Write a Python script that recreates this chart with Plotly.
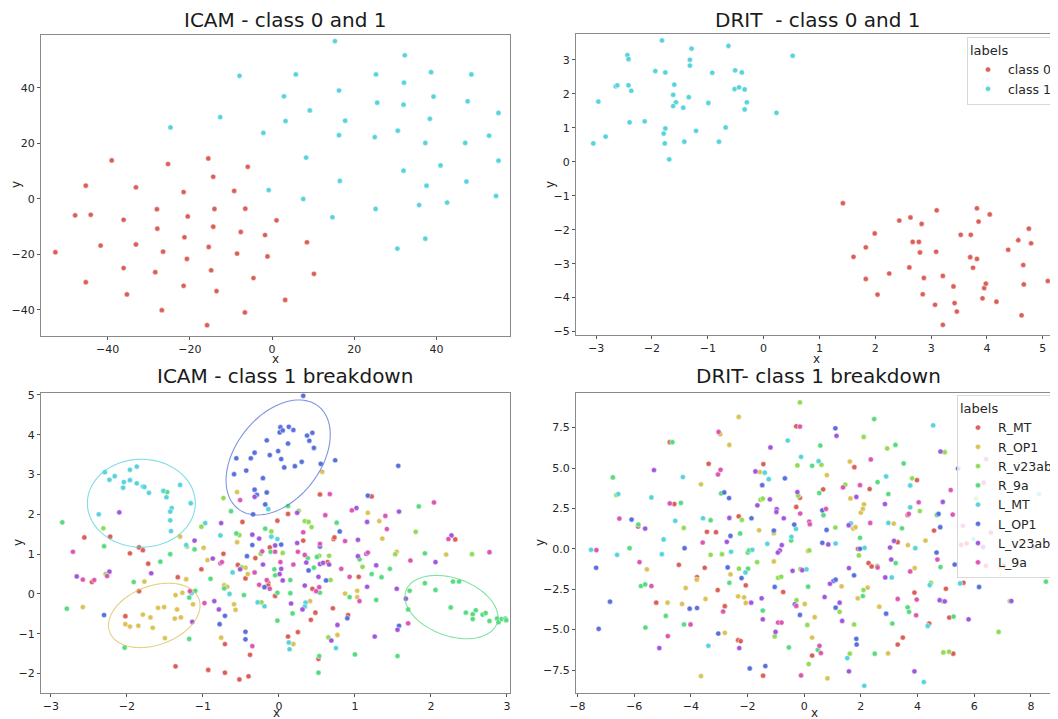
import numpy as np
import plotly.graph_objects as go

# ---------------- colours (seaborn hls palette) ----------------
PAL8 = ["#db5f57", "#dbc257", "#91db57", "#57db80", "#57d3db", "#5770db", "#a157db", "#db57b2"]
PAL2 = ["#db5f57", "#57d3db"]

# ---------------- ICAM - class 0 and 1 ----------------
icam01_c0_x = [-39.0, -25.3, -15.5, -5.9, -14.3, -45.3, -33.1, -9.2, -21.5, -47.9, -44.1, -28.0, -20.5, -14.0, -6.5,
               -36.1, 1.1, -27.9, -14.3, -7.6, -1.7, -21.3, 8.5, -41.7, -33.1, -15.4, -52.7, -26.5, -8.5, -1.1,
               -20.7, -36.1, -28.4, -14.8, 10.2, -4.5, -21.5, -35.3, -13.5, 3.2, -26.8, -6.6, -15.8, -45.3]
icam01_c0_y = [13.8, 12.5, 14.5, 11.5, 7.9, 4.7, 4.1, 2.8, 2.4, -6.0, -5.8, -3.8, -6.4, -3.7, -3.6,
               -7.6, -7.8, -10.8, -10.1, -12.0, -13.1, -13.9, -15.7, -16.9, -16.5, -17.4, -19.3, -19.1, -19.8, -20.8,
               -21.7, -25.0, -26.5, -25.8, -27.1, -28.6, -31.4, -34.5, -33.3, -36.5, -40.2, -41.0, -45.6, -30.1]
icam01_c1_x = [15.3, 32.3, -7.9, 5.8, 25.3, 38.7, 48.5, 32.1, 16.3, 2.9, 39.3, 25.6, 32.0, 47.6, 55.1, 9.2, -12.6,
               3.3, 17.8, 38.4, -24.7, -2.1, 16.3, 25.0, 30.6, 37.3, 47.0, 52.8, 8.3, 41.0, 32.0, 55.1, -0.8, 16.5,
               37.6, 47.3, 7.6, 54.5, 35.8, 42.6, 25.2, 14.7, 37.3, 30.5]
icam01_c1_y = [56.8, 51.7, 44.3, 44.8, 44.8, 45.6, 44.8, 41.8, 39.0, 36.9, 36.8, 34.6, 33.9, 35.1, 30.9, 31.8, 29.4,
               28.0, 28.1, 28.8, 25.7, 23.7, 22.9, 22.2, 24.5, 20.1, 20.1, 22.7, 14.8, 12.0, 10.1, 13.7, 3.1, 6.4,
               4.7, 6.2, -0.1, 1.0, -2.3, -1.4, -3.7, -6.7, -14.4, -18.0]

# ---------------- DRIT - class 0 and 1 ----------------
drit01_c0_x = [1.42, 1.61, 1.83, 1.83, 1.99, 2.04, 2.25, 2.43, 2.63, 2.67, 2.61, 2.78, 2.80, 2.83, 2.87, 2.85, 3.07,
               3.10, 3.09, 3.21, 3.21, 3.40, 3.42, 3.46, 3.53, 3.71, 3.70, 3.75, 3.82, 3.82, 3.85, 3.92, 3.95, 3.98,
               4.05, 4.17, 4.38, 4.56, 4.62, 4.65, 4.66, 4.75, 4.79, 5.09]
drit01_c0_y = [-1.22, -2.80, -2.52, -3.45, -2.11, -3.91, -3.29, -1.73, -1.64, -2.36, -3.11, -2.36, -2.67, -1.83,
               -3.42, -3.90, -4.21, -1.43, -2.65, -3.36, -4.80, -3.67, -4.16, -4.41, -2.15, -2.15, -2.81, -3.12,
               -1.37, -2.86, -1.76, -4.02, -3.72, -3.59, -1.55, -4.12, -2.59, -2.31, -4.52, -3.04, -3.61, -1.97,
               -2.40, -3.51]
drit01_c1_x = [-3.05, -2.96, -2.83, -2.65, -2.62, -2.44, -2.42, -2.42, -2.37, -2.40, -2.13, -1.94, -1.82, -1.76,
               -1.60, -1.62, -1.57, -1.62, -1.76, -1.79, -1.77, -1.69, -1.44, -1.34, -1.32, -1.32, -1.29, -1.42,
               -1.21, -0.99, -0.92, -0.80, -0.68, -0.63, -0.51, -0.52, -0.44, -0.39, -0.34, -0.30, -0.34, 0.23, 0.52]
drit01_c1_y = [0.54, 1.77, 0.74, 2.22, 2.25, 3.14, 3.02, 2.25, 2.09, 1.16, 1.19, 2.67, 3.57, 2.63, 2.27, 1.97, 1.75,
               1.64, 0.98, 0.83, 0.54, 0.07, 1.59, 1.90, 2.83, 3.00, 3.33, 0.59, 0.91, 1.73, 2.62, 0.59, 1.01, 3.41,
               2.69, 2.14, 2.19, 2.63, 2.13, 1.75, 1.54, 1.44, 3.12]

CLASS_LABELS = ["class 0", "class 1"]
BREAK_LABELS = ["R_MT", "R_OP1", "R_v23ab", "R_9a", "L_MT", "L_OP1", "L_v23ab", "L_9a"]

# ---------------- ICAM - class 1 breakdown ----------------
icam_bd = {
    "R_MT": (
        [-2.22, -2.02, -1.84, -1.33, -2.56, -2.46, -1.96, -1.84, -1.79, -1.72, -1.36, -1.02, -0.93, -0.73, -0.71,
         -0.71, -0.52, -0.54, -0.48, -0.44, -0.40, -0.38, -0.31, -0.14, -0.14, -0.12, -0.02, 0.12, 0.12, 0.25,
         0.32, 0.42, 0.44, 0.48, 0.52, 0.54, 0.64, 0.72, 0.73, 0.71, 0.91, 1.05, 1.22, 2.32, -0.05],
        [1.44, -0.56, 0.07, 0.42, 1.42, 0.30, 1.02, 1.17, 1.10, 0.76, -1.82, 0.62, -1.91, 1.01, -1.26,
         -1.98, -2.15, 0.73, 1.81, 0.39, -2.07, -1.53, 0.90, 0.28, 0.21, 1.17, 1.84, -1.07, 2.01, -0.96,
         1.34, -0.65, 0.13, -0.47, -1.63, 2.50, 0.80, 1.38, 1.42, -0.36, -0.53, 0.43, 2.45, 1.37, -0.05]),
    "R_OP1": (
        [-1.36, -1.27, -1.59, -1.51, -1.34, -1.79, -1.69, -2.02, -1.96, -1.85, -1.66, -1.37, -1.29, -1.50, -1.13,
         -1.30, -1.77, -2.58, -1.22, -0.55, 0.57, -0.99, -0.94, -0.76, -0.72, -0.68, -0.59, -0.57, -0.55, -0.44,
         -0.41, 0.19, 0.41, 0.77, 0.87, 1.03, 1.03, 1.17, 1.32, 1.36, 1.55, 2.20],
        [-0.03, 0.03, -0.35, -0.33, -0.39, -0.52, -0.59, -0.76, -0.82, -0.80, -0.85, -0.62, -0.59, -1.11, -0.26,
         1.44, 0.31, -0.33, 0.37, 2.56, 3.07, 1.16, 0.85, -1.10, 0.22, 0.18, -0.26, -0.40, 1.30, 0.66,
         0.50, -1.26, -0.18, -1.03, 0.01, 0.08, -0.08, 2.04, 1.83, 1.39, 1.06, 0.99]),
    "R_v23ab": (
        [-2.31, -2.28, -1.21, -1.02, -0.52, -0.49, -0.24, -0.23, -0.10, 0.05, 0.26, 0.34, 0.39, 0.43, 0.53,
         0.66, 0.65, 0.68, 1.10, 1.53, 1.80, 2.54, -0.73],
        [1.65, 0.50, 1.19, 1.69, 1.48, 0.67, 1.01, -0.21, 1.57, 1.03, 2.09, 1.83, 1.81, 1.68, 0.96,
         0.96, -1.09, 0.35, 0.68, 1.00, 1.56, 1.00, 2.41]),
    "R_9a": (
        [-1.47, -2.85, -2.79, -2.30, -2.03, -1.91, -1.56, -1.43, -1.18, -1.10, -1.18, -1.11, -0.90, -0.72, -0.56,
         -0.46, -0.18, -0.11, -0.06, -0.05, -0.02, -0.02, 0.15, 0.15, 0.18, 0.38, 0.46, 0.50, 0.54, 0.53,
         0.52, 0.76, 0.93, 1.00, 1.06, 1.22, 1.28, 1.35, 1.46, 1.84, 1.92, 0.12, -0.63,
         1.72, 1.92, 2.06, 2.29, 2.37, 2.26, 2.46, 2.55, 2.59, 2.55, 2.68, 2.72, 2.77, 2.87, 2.89, 2.93,
         2.98, 2.99, 1.70, 1.56],
        [2.56, 1.80, -0.37, 1.20, -1.35, 0.30, 0.81, 1.00, -0.09, 0.08, -1.13, 1.12, 0.38, 0.14, 1.52,
         -0.03, 1.64, 1.06, 0.62, 0.47, 0.03, -0.67, 0.02, 0.35, -0.49, 0.90, 0.66, 0.93, 0.03, -1.56,
         -1.98, 1.79, -0.08, -1.52, 0.87, 0.50, -0.15, 0.42, 0.63, 2.20, 1.02, 2.21, 2.08,
         0.08, 0.27, 0.10, 0.31, 0.31, -0.34, -0.47, -0.51, -0.41, -0.63, -0.52, -0.48, -0.68, -0.62, -0.71, -0.63,
         -0.62, -0.66, -0.39, -1.56]),
    "L_MT": (
        [-2.29, -2.23, -2.16, -2.04, -2.05, -1.96, -1.96, -1.87, -1.87, -1.79, -1.77, -1.71, -1.52, -1.48, -1.30,
         -1.41, -1.43, -1.43, -1.42, -1.16, -2.37, -1.15, -1.22, -0.97, -0.77, -0.65, -0.61, -0.28, -0.19, -0.10,
         -0.02, 0.13, 0.14, 0.35, 0.34, -0.14, 0.75],
        [3.06, 2.87, 2.96, 2.81, 2.67, 3.12, 2.86, 3.20, 2.78, 2.70, 2.69, 2.54, 2.59, 2.43, 2.74,
         2.16, 2.07, 1.85, 1.58, 2.28, 2.00, 0.02, 1.23, 1.78, 1.47, 0.00, 0.54, -0.21, -0.31, 1.44,
         1.38, -1.22, -1.39, -0.22, -0.32, 2.13, -1.36]),
    "L_OP1": (
        [0.32, 0.02, 0.13, 0.01, 0.05, 0.19, 0.44, 0.37, 0.40, 0.46, -0.16, 0.12, -0.01, -0.12, -0.32,
         -0.37, -0.56, 0.03, -0.43, 0.07, 0.21, 0.30, 0.55, 0.74, -0.59, -0.21, -0.32, -0.16, -0.29, -0.18,
         -0.34, 1.57, 1.17, -2.30, -0.78, -0.71, -0.42, -0.44, -0.44, -0.35, -0.19, 0.03, 0.39, 0.54, 0.62,
         0.80, 0.90, 1.58],
        [4.98, 4.19, 4.20, 4.06, 4.11, 4.12, 4.05, 3.98, 3.85, 3.67, 3.86, 3.78, 3.59, 3.49, 3.55,
         3.41, 3.41, 3.39, 3.10, 3.18, 3.21, 3.32, 3.27, 3.36, 3.01, 2.91, 2.62, 2.55, 2.49, 2.25,
         2.00, 3.22, 2.47, -0.53, -0.76, -0.55, 0.95, -0.95, -1.14, 1.23, 0.17, 1.24, 0.59, 1.19, 0.34,
         1.57, -0.61, -0.80]),
    "L_v23ab": (
        [-2.10, -0.32, 0.24, -1.14, 1.67, 1.55, 1.56, -2.66, -2.23, -1.68, -1.11, -0.87, -0.85, -0.79, -0.76,
         -0.51, -0.35, -0.26, -0.21, -0.05, 0.01, 0.05, 0.03, 0.16, 0.24, 0.31, 0.36, 0.34, 0.52, 0.54,
         0.58, 0.66, 0.69, 0.77, 1.02, 1.04, 1.04, 1.16, 1.15, 1.16, 1.28, 1.26, 1.58, 2.06, 2.27],
        [2.05, 2.44, 2.04, -0.70, -0.12, 0.13, -0.90, 0.44, 0.56, 0.52, 1.34, 0.89, -0.18, -0.39, 1.78,
         0.62, 1.49, 1.39, 0.74, 1.22, 0.50, 0.34, 0.63, -0.24, 1.28, -0.39, 0.79, 0.21, 0.43, 0.75,
         0.78, 0.74, -1.17, -0.78, 2.16, 0.95, 1.36, 1.81, 1.01, 0.18, 0.72, -1.07, 2.07, 0.80, 1.47]),
    "L_9a": (
        [-0.51, 0.67, 0.61, -1.17, 1.70, -2.71, -2.58, -2.43, -2.26, -0.98, -0.77, -0.75, -0.35, -0.32, -0.26,
         -0.22, -0.16, -0.12, -0.05, 0.02, 0.19, 0.25, 0.32, 0.34, 0.49, 0.53, 0.54, 0.82, 0.87, 0.96,
         0.93, 1.06, 1.17, 1.40, 1.42, 1.73, 2.04, 2.23, 2.77],
        [2.36, 2.51, 1.98, 0.07, -0.74, 1.06, 0.36, 0.35, 0.45, -0.23, 0.77, 0.80, -1.31, 0.54, 0.23,
         1.07, 0.35, 0.13, 1.06, 0.80, 0.74, 1.06, 1.55, 0.98, 0.07, 0.17, 1.26, 0.63, 1.33, 2.10,
         0.43, -0.18, 1.04, 1.96, 1.63, 0.84, 2.30, 1.38, 1.05]),
}

# ellipses highlighting clusters: centre, semi-axis vector 1, semi-axis vector 2 (data units)
ELLIPSES = [
    {"label": "L_MT", "c": (-1.81, 2.28), "u": (0.71, 0.0), "v": (0.0, 1.105)},
    {"label": "L_OP1", "c": (-0.01, 3.43), "u": (0.528, 1.289), "v": (-0.437, 0.654)},
    {"label": "R_OP1", "c": (-1.64, -0.54), "u": (0.587, 0.415), "v": (-0.134, 0.694)},
    {"label": "R_9a", "c": (2.27, -0.33), "u": (0.598, -0.411), "v": (0.128, 0.681)},
]

# ---------------- DRIT - class 1 breakdown ----------------
drit_bd = {
    "R_MT": (
        [-0.28, -4.74, -3.37, -1.44, 1.77, 3.98, 2.31, 0.67, -0.15, -4.58, -0.28, 3.65, -5.86, -2.31, 4.58,
         -4.42, -3.43, -3.11, 1.90, 3.30, 5.73, 2.27, 2.38, 7.04, 5.62, -3.51, -3.78, -3.05, -2.06, -0.74,
         5.00, 3.89, -5.22, -2.80, 5.12, 4.41, 3.48, 3.30, -2.33, -2.24, 0.28, 5.26, -1.45],
        [7.58, 6.60, 5.26, 5.24, 5.05, 4.25, 3.70, 3.68, 3.16, 2.77, 2.59, 2.10, 1.38, 2.01, 1.13,
         -0.99, 1.05, 1.03, 0.00, 0.41, 0.33, -0.88, -1.09, -1.05, -2.10, -1.17, -1.75, -2.55, -2.26, -2.67,
         -2.47, -2.71, -3.33, -3.55, -4.25, -4.62, -5.49, -5.92, -5.65, -5.71, -6.60, -6.49, -7.85]),
    "R_OP1": (
        [-2.31, -2.96, -2.64, -1.56, 1.61, -3.64, 0.80, 1.63, 2.11, -1.59, -1.07, 1.73, 1.81, 2.00, 2.07,
         3.16, -1.07, 0.13, 3.66, 4.28, 6.92, 3.90, -5.55, -2.60, -3.79, -4.18, -2.33, -2.12, -2.06, 1.32,
         2.24, 1.89, -4.82, -4.31, -3.48, 0.02, 2.65, 0.37, 0.28, -2.80, 2.96, -3.64, 0.82],
        [8.16, 7.09, 6.43, 4.75, 5.40, 3.99, 4.56, 3.12, 2.75, 1.15, 0.97, 1.25, 1.34, 2.24, 2.47,
         1.56, -0.78, -0.14, 0.23, 0.51, -1.15, -1.19, -1.27, -1.58, -1.91, -2.42, -2.94, -3.00, -3.35, -2.32,
         -2.40, -3.06, -3.33, -3.41, -3.10, -3.41, -3.58, -4.23, -5.49, -5.20, -6.47, -7.87, -8.01]),
    "R_v23ab": (
        [-0.15, 2.10, 2.93, 4.96, -0.24, 0.61, 3.81, 1.45, -6.63, -1.54, -1.46, -0.21, 6.06, 4.08, -4.25,
         -2.20, 1.10, -3.30, -2.90, -1.66, 1.93, 0.18, 2.58, -2.30, -0.13, -0.92, -0.81, 4.47, 2.09, -0.27,
         1.25, 0.11, 1.76, -1.04, 0.16, 1.61, 4.91, 5.11, 6.86, 7.25],
        [9.06, 6.92, 6.21, 5.98, 5.16, 5.20, 4.36, 3.97, 3.33, 3.04, 3.10, 3.29, 3.10, 2.34, 1.29,
         1.79, 1.32, -0.37, -0.33, -0.82, -0.41, -0.10, -1.05, -1.23, -1.25, -1.79, -1.73, -2.10, -2.55, -3.18,
         -3.90, -4.71, -4.68, -5.42, -7.13, -6.49, -6.41, -6.37, -5.14, -3.23]),
    "R_9a": (
        [2.47, -4.65, 0.57, 3.22, -6.75, 0.28, 3.51, 2.59, -2.93, 0.53, 2.97, -4.35, 4.68, 0.68, -5.85,
         -3.30, 3.45, -6.16, -2.26, -1.99, -1.94, -0.46, 1.97, 3.23, 4.81, -2.64, -1.98, 8.53, -5.76, -5.61,
         0.14, 2.07, 4.90, 3.65, 3.70, -1.46, 5.27, 3.11, -0.54, -5.60, 0.48, 2.49, -4.24, -4.88],
        [8.03, 6.60, 6.39, 6.43, 4.42, 5.14, 5.28, 4.13, 3.43, 3.45, 3.39, 2.84, 2.10, 2.08, 1.50,
         1.77, 1.27, 0.04, 0.95, -0.23, -0.10, 0.51, 0.68, -0.88, -1.13, -2.10, -1.23, -2.03, -2.30, -2.20,
         -2.34, -2.92, -3.25, -3.62, -3.90, -3.82, -4.19, -4.62, -6.10, -4.87, -6.25, -6.49, -4.68, -4.15]),
    "L_MT": (
        [4.55, -0.58, -4.28, -1.39, -1.25, -0.11, 0.51, 2.89, 3.74, -6.56, -5.39, 3.74, -4.55, -3.57, -0.29,
         1.58, 1.65, 2.97, 5.97, 8.28, -7.52, -6.60, -5.02, -4.96, -2.58, -1.83, -1.30, -0.45, 1.11, 2.13,
         3.92, 0.08, -2.07, 3.09, 4.43, 5.50, 4.36, -3.38, 1.52, 2.12, 4.22],
        [7.64, 6.70, 4.44, 4.71, 4.31, 5.69, 5.42, 4.48, 3.92, 3.39, 3.18, 2.57, 1.73, 1.89, 1.23,
         1.44, 1.58, 1.60, 0.60, 3.39, -0.06, -0.37, -0.33, 0.58, -0.18, -0.06, 0.31, 0.74, 0.33, 0.06,
         0.04, -1.27, -1.46, -1.77, -2.24, -2.14, -4.77, -6.00, -6.76, -8.47, -8.24]),
    "L_OP1": (
        [1.10, 5.43, -0.68, -1.48, -2.82, -2.65, 4.74, -6.09, -1.86, -0.35, 0.64, 0.79, 4.80, 8.10, -4.22,
         -2.60, -1.07, 0.64, 1.97, 4.67, 5.31, -7.34, -2.70, -2.21, 1.76, 1.03, 1.11, 6.17, -1.04, -6.85,
         -4.04, -3.78, -0.33, -0.15, 1.11, 2.89, 1.84, 1.85, -7.25, -3.03, -1.92, -1.37],
        [7.46, 4.97, 4.36, 3.94, 3.49, 3.14, 2.16, 1.81, 1.89, 1.50, 2.38, 1.17, 1.34, 0.10, 0.04,
         0.80, 1.13, 0.37, 0.00, -0.23, -0.97, -1.17, -1.15, -1.81, -1.64, -1.99, -1.91, -2.36, -2.36, -3.27,
         -3.70, -3.66, -3.43, -4.09, -3.64, -4.01, -5.57, -5.92, -4.95, -5.24, -7.40, -7.25]),
    "L_v23ab": (
        [1.14, -1.19, 4.81, -5.30, -1.72, 1.84, -1.21, -0.24, -1.65, 2.85, 4.89, -5.61, -2.64, -0.97, -0.98,
         -0.72, 1.57, -2.73, -0.79, -0.86, -0.93, 0.85, 3.03, 3.07, 3.17, 6.31, 1.58, -0.41, -0.07, 0.91,
         2.86, -1.87, -1.50, 4.78, 4.96, 0.72, 1.25, 1.34, 5.80, -1.46, -1.01, -5.11, -2.29, 1.58, 3.89, 7.31],
        [6.99, 6.27, 6.02, 4.87, 4.79, 3.21, 3.06, 3.51, 2.69, 2.77, 2.90, 1.25, 1.91, 2.45, 2.28,
         1.89, 1.46, 0.43, 0.23, -0.10, -0.23, 0.27, 0.08, -0.66, 0.49, 0.12, -1.19, -1.36, -1.32, -2.16,
         -1.77, -3.33, -3.06, -3.18, -3.25, -2.98, -3.33, -4.46, -4.36, -4.36, -5.14, -6.14, -6.14, -7.58, -7.58, -3.23]),
    "L_9a": (
        [-3.02, -0.15, -3.04, -2.95, 2.35, 6.42, 1.97, 1.37, 5.17, 6.33, -4.74, 4.04, 3.69, 5.24, -6.52,
         -0.14, 0.18, 0.20, 0.77, 2.33, 5.60, 6.59, -7.33, -3.58, 4.70, 5.54, 2.59, 6.41, 3.74, -5.81,
         -5.39, 3.97, 3.30, -2.86, -0.28, 3.95, -0.92, -0.80, -4.81, 0.54, 0.59, -4.01, -0.11],
        [7.23, 7.56, 4.60, 4.89, 5.53, 5.55, 3.94, 3.80, 3.64, 4.09, 2.81, 2.88, 2.16, 2.12, 1.87,
         2.18, 1.68, 1.52, 2.47, 1.60, 1.42, 1.01, -0.08, 0.39, -0.66, 0.25, -1.15, -1.05, -1.40, -0.82,
         -2.30, -3.14, -3.10, -3.88, -3.53, -4.11, -4.56, -4.56, -5.40, -6.00, -6.45, -4.68, -7.83]),
}

TITLES = ["ICAM - class 0 and 1", "DRIT  - class 0 and 1", "ICAM - class 1 breakdown", "DRIT- class 1 breakdown"]

# ---------------- figure ----------------
W, H = 1058, 719
OFF = 8  # the page body has an 8px margin; positions below are window pixels
FONT = "DejaVu Sans"
TXT = "#262626"


def px_x(p):
    return (p - OFF) / W


def px_y(p):
    return 1 - (p - OFF) / H


fig = go.Figure()

MK = dict(size=5.2, line=dict(color="white", width=0.5))

# panel 1
for xs, ys, col in [(icam01_c0_x, icam01_c0_y, PAL2[0]), (icam01_c1_x, icam01_c1_y, PAL2[1])]:
    fig.add_trace(go.Scatter(x=xs, y=ys, mode="markers", marker=dict(color=col, **MK),
                             xaxis="x", yaxis="y", showlegend=False))
# panel 2
for lab, xs, ys, col in [(CLASS_LABELS[0], drit01_c0_x, drit01_c0_y, PAL2[0]),
                         (CLASS_LABELS[1], drit01_c1_x, drit01_c1_y, PAL2[1])]:
    fig.add_trace(go.Scatter(x=xs, y=ys, mode="markers", name=lab, marker=dict(color=col, **MK),
                             xaxis="x2", yaxis="y2", legend="legend"))
# panel 3
for lab, col in zip(BREAK_LABELS, PAL8):
    xs, ys = icam_bd[lab]
    fig.add_trace(go.Scatter(x=xs, y=ys, mode="markers", marker=dict(color=col, **MK),
                             xaxis="x3", yaxis="y3", showlegend=False))
# panel 4
for lab, col in zip(BREAK_LABELS, PAL8):
    xs, ys = drit_bd[lab]
    fig.add_trace(go.Scatter(x=xs, y=ys, mode="markers", name=lab, marker=dict(color=col, **MK),
                             xaxis="x4", yaxis="y4", legend="legend2"))

# ellipses
t = np.linspace(0, 2 * np.pi, 120)
for e in ELLIPSES:
    col = PAL8[BREAK_LABELS.index(e["label"])]
    ex = e["c"][0] + e["u"][0] * np.cos(t) + e["v"][0] * np.sin(t)
    ey = e["c"][1] + e["u"][1] * np.cos(t) + e["v"][1] * np.sin(t)
    path = "M " + " L ".join(f"{a:.4f},{b:.4f}" for a, b in zip(ex, ey)) + " Z"
    fig.add_shape(type="path", path=path, xref="x3", yref="y3",
                  line=dict(color=col, width=1.1), opacity=0.75)

# axes (domains from window pixel positions)
LEFT = [px_x(41), px_x(510)]
RIGHT = [px_x(576), px_x(1059)]
TOP_L = [px_y(336), px_y(35)]
TOP_R = [px_y(335), px_y(34)]
BOT = [px_y(693), px_y(393)]

common = dict(showgrid=False, zeroline=False, showline=True, mirror=True, linecolor="#8a8a8a", linewidth=1.3,
              ticks="outside", ticklen=3, tickcolor="#555555", tickwidth=1,
              tickfont=dict(family=FONT, size=11, color=TXT))

fig.update_layout(
    xaxis=dict(domain=LEFT, range=[-56.2, 57.9], dtick=20, anchor="y", **common),
    yaxis=dict(domain=TOP_L, range=[-49.5, 59.0], dtick=20, anchor="x", **common),
    xaxis2=dict(domain=RIGHT, range=[-3.36, 5.29], dtick=1, anchor="y2", **common),
    yaxis2=dict(domain=TOP_R, range=[-5.10, 3.76], dtick=1, anchor="x2", **common),
    xaxis3=dict(domain=LEFT, range=[-3.13, 3.04], dtick=1, anchor="y3", **common),
    yaxis3=dict(domain=BOT, range=[-2.49, 5.05], dtick=1, anchor="x3", **common),
    xaxis4=dict(domain=RIGHT, range=[-8.05, 8.99], dtick=2, anchor="y4", **common),
    yaxis4=dict(domain=BOT, range=[-8.92, 9.64], dtick=2.5, tickformat=".1f", anchor="x4", **common),
)

# axis labels placed like the reference
x_lab_pos = [(275, 359), (816, 359), (276, 713), (814, 713)]
y_lab_pos = [(16, 185), (550, 185), (18, 543), (540, 543)]
for (ax_, ay_) in x_lab_pos:
    fig.add_annotation(text="x", x=px_x(ax_), y=px_y(ay_), xref="paper", yref="paper",
                       xanchor="center", yanchor="middle", showarrow=False, borderpad=0,
                       font=dict(family=FONT, size=12, color=TXT))
for (ax_, ay_) in y_lab_pos:
    fig.add_annotation(text="y", x=px_x(ax_), y=px_y(ay_), xref="paper", yref="paper",
                       xanchor="center", yanchor="middle", showarrow=False, textangle=-90, borderpad=0,
                       font=dict(family=FONT, size=12, color=TXT))

legend_common = dict(bgcolor="rgba(255,255,255,0.8)", bordercolor="#d9d9d9", borderwidth=1,
                     font=dict(family=FONT, size=12.5, color=TXT),
                     title=dict(text="labels", font=dict(family=FONT, size=13, color=TXT)),
                     xanchor="right", yanchor="top", itemwidth=30, tracegroupgap=0)
fig.update_layout(
    legend=dict(x=px_x(1058), y=px_y(37), **legend_common),
    legend2=dict(x=px_x(1058), y=px_y(395), **legend_common),
)

# titles
title_pos = [(285, 20), (818, 20), (285, 376), (818, 376)]
for txt, (tx, ty) in zip(TITLES, title_pos):
    fig.add_annotation(text=txt, x=px_x(tx), y=px_y(ty), xref="paper", yref="paper",
                       xanchor="center", yanchor="middle", showarrow=False, borderpad=0,
                       font=dict(family=FONT, size=20, color="#1a1a1a"))

fig.update_layout(width=W, height=H, margin=dict(l=0, r=0, t=0, b=0, autoexpand=False),
                  paper_bgcolor="white", plot_bgcolor="white",
                  font=dict(family=FONT, color=TXT))

fig.write_html("out.html")
